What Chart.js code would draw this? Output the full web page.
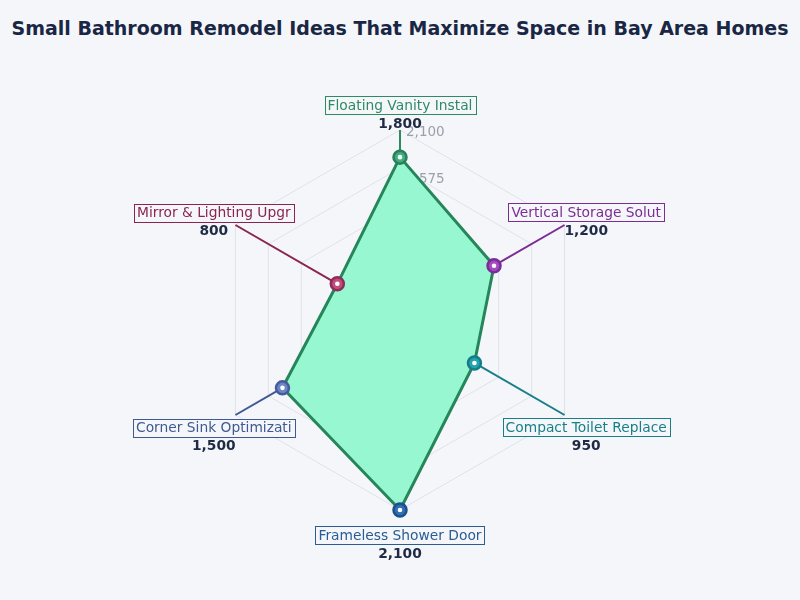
<!DOCTYPE html>
<html>
<head>
<meta charset="utf-8">
<script src="https://cdn.jsdelivr.net/npm/chart.js@4.4.1/dist/chart.umd.min.js"></script>
<style>
  html, body { margin: 0; padding: 0; background: #f4f6fa; }
  #wrap { position: relative; width: 800px; height: 600px; }
  h1 {
    position: absolute; top: 0; left: 0; width: 800px; margin: 0;
    text-align: center;
    font: bold 19px "DejaVu Sans", sans-serif; color: #1a2744;
    line-height: 56px;
  }
  canvas { position: absolute; top: 0; left: 0; }
</style>
</head>
<body>
<div id="wrap">
  <h1>Small Bathroom Remodel Ideas That Maximize Space in Bay Area Homes</h1>
  <canvas id="chart" width="800" height="600"></canvas>
</div>
<script>
// Labels as printed on the chart (truncated in the source)
const categories = [
  'Floating Vanity Instal',
  'Vertical Storage Solut',
  'Compact Toilet Replace',
  'Frameless Shower Door',
  'Corner Sink Optimizati',
  'Mirror & Lighting Upgr',
];
const values = [1800, 1200, 950, 2100, 1500, 800];

// radial axis: grid rings every 420, labels every 525
const axisMax = 2100;
const gridStep = 420;
const tickLabels = [525, 1050, 1575, 2100];

// per-category colours
const labelColors  = ['#2f8a62', '#7b2d93', '#187f88', '#2a5d92', '#3f5a92', '#8a2550'];
const pointFills   = ['#3fae7e', '#a34cc2', '#22a3ad', '#2f6fb5', '#6d84c6', '#c04d7c'];
const pointBorders = ['#2a7f59', '#7a2c98', '#167c85', '#1f4f8a', '#455c9c', '#8e2c5a'];

const FONT = '"DejaVu Sans", sans-serif';
const fmt = v => v.toLocaleString('en-US');

// leader lines + tick labels underneath the polygon, boxed labels on top
const decorations = {
  id: 'decorations',
  beforeDatasetsDraw(chart) {
    const { ctx } = chart;
    const r = chart.scales.r;
    ctx.save();
    ctx.font = '13.5px ' + FONT;
    ctx.fillStyle = '#9aa0ab';
    ctx.textAlign = 'left';
    ctx.textBaseline = 'middle';
    tickLabels.forEach(v => {
      const p = r.getPointPositionForValue(0, v);
      ctx.fillText(fmt(v), p.x + 6, p.y + 2);
    });
    categories.forEach((c, i) => {
      const from = r.getPointPositionForValue(i, values[i]);
      const to = r.getPointPositionForValue(i, axisMax);
      ctx.strokeStyle = labelColors[i];
      ctx.lineWidth = 2;
      ctx.beginPath();
      ctx.moveTo(from.x, from.y);
      ctx.lineTo(to.x, to.y);
      ctx.stroke();
    });
    ctx.restore();
  },
  afterDatasetsDraw(chart) {
    const { ctx } = chart;
    const r = chart.scales.r;
    ctx.save();
    ctx.textAlign = 'center';
    ctx.textBaseline = 'middle';
    categories.forEach((c, i) => {
      const p = r.getPointPosition(i, r.drawingArea + 25);
      ctx.font = '13.8px ' + FONT;
      const w = ctx.measureText(c).width + 6;
      const h = 18;
      ctx.fillStyle = '#f4f6fa';
      ctx.fillRect(p.x - w / 2, p.y - h / 2, w, h);
      ctx.strokeStyle = labelColors[i];
      ctx.lineWidth = 1;
      ctx.strokeRect(Math.round(p.x - w / 2) + 0.5, Math.round(p.y - h / 2) + 0.5, Math.round(w), h);
      ctx.fillStyle = labelColors[i];
      ctx.fillText(c, p.x, p.y + 1);
      ctx.font = 'bold 13.8px ' + FONT;
      ctx.fillStyle = '#1f2a44';
      ctx.fillText(fmt(values[i]), p.x, p.y + 19);
    });
    ctx.restore();
  },
};

new Chart(document.getElementById('chart'), {
  type: 'radar',
  data: {
    labels: categories,
    datasets: [
      {
        label: 'Cost',
        data: values,
        order: 1,
        fill: true,
        backgroundColor: '#97f7d0',
        borderColor: '#26855a',
        borderWidth: 3,
        pointRadius: 6.5,
        pointBorderWidth: 2.5,
        pointBackgroundColor: pointFills,
        pointBorderColor: pointBorders,
      },
      {
        // white centre dot on each marker
        label: 'dots',
        data: values,
        order: 0,
        fill: false,
        showLine: false,
        borderWidth: 0,
        pointRadius: 2.3,
        pointBorderWidth: 0,
        pointBackgroundColor: '#ffffff',
        pointBorderColor: '#ffffff',
      },
    ],
  },
  options: {
    responsive: false,
    animation: false,
    layout: { padding: { top: 130, bottom: 90, left: 200, right: 200 } },
    scales: {
      r: {
        min: 0,
        max: axisMax,
        ticks: { stepSize: gridStep, display: false },
        grid: { color: '#dfe2e8', lineWidth: 1 },
        angleLines: { color: '#dfe2e8', lineWidth: 1 },
        pointLabels: { display: false },
      },
    },
    plugins: {
      legend: { display: false },
      tooltip: { enabled: false },
    },
  },
  plugins: [decorations],
});
</script>
</body>
</html>
